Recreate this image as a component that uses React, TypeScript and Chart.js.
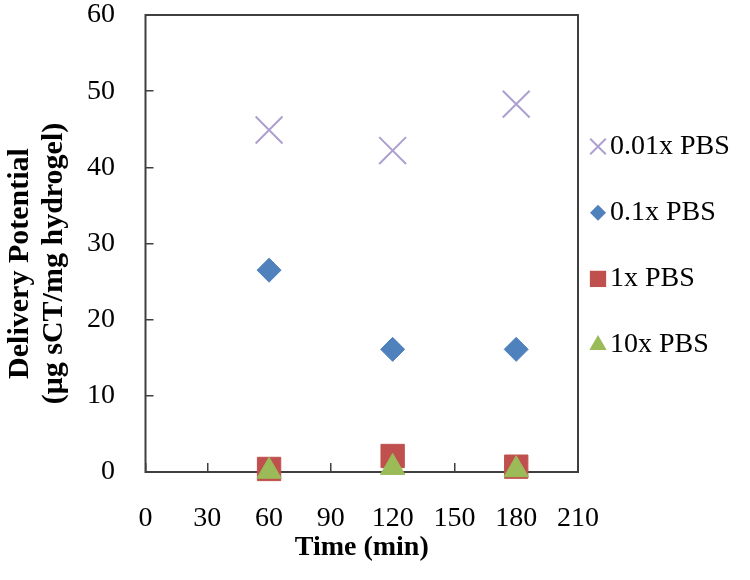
import React, { useEffect, useRef } from 'react';
import { Chart, registerables } from 'chart.js';

Chart.register(...registerables);

// ---- data ----
const timeMin = [60, 120, 180];
const pbs001 = [44.9, 42.2, 48.3];
const pbs01 = [26.5, 16.1, 16.1];
const pbs1 = [0.4, 2.1, 0.7];
const pbs10 = [0.1, 0.6, 0.3];
const seriesLabels = ['0.01x PBS', '0.1x PBS', '1x PBS', '10x PBS'];
const xTitle = 'Time (min)';
const yTitle = ['Delivery Potential', '(\u03bcg sCT/mg hydrogel)'];

const FONT = "'Liberation Serif', 'Times New Roman', serif";
const AXIS_COLOR = '#3f3f3f';

type Marker = { style: string; color: string; border: string; lw: number; r: number; legendR: number };
const markers: Marker[] = [
  { style: 'crossRot', color: '#ad9fd0', border: '#ad9fd0', lw: 2, r: 19, legendR: 11 },
  { style: 'rectRot', color: '#4f81bd', border: '#4f81bd', lw: 1, r: 12, legendR: 8 },
  { style: 'rect', color: '#c0504d', border: '#c0504d', lw: 1, r: 16.5, legendR: 11.5 },
  { style: 'triangle', color: '#9bbb59', border: '#9bbb59', lw: 1, r: 14, legendR: 10 },
];

function drawMarker(ctx: CanvasRenderingContext2D, m: Marker, x: number, y: number, r: number) {
  ctx.save();
  ctx.fillStyle = m.color;
  ctx.strokeStyle = m.border;
  ctx.lineWidth = m.lw;
  ctx.beginPath();
  if (m.style === 'crossRot') {
    const d = Math.SQRT1_2 * r;
    ctx.moveTo(x - d, y - d);
    ctx.lineTo(x + d, y + d);
    ctx.moveTo(x - d, y + d);
    ctx.lineTo(x + d, y - d);
    ctx.stroke();
  } else if (m.style === 'rectRot') {
    ctx.moveTo(x, y - r);
    ctx.lineTo(x + r, y);
    ctx.lineTo(x, y + r);
    ctx.lineTo(x - r, y);
    ctx.closePath();
    ctx.fill();
  } else if (m.style === 'rect') {
    const h = Math.SQRT1_2 * r;
    ctx.rect(x - h, y - h, 2 * h, 2 * h);
    ctx.fill();
  } else {
    ctx.moveTo(x, y - r);
    ctx.lineTo(x + r * Math.sqrt(3) / 2, y + r / 2);
    ctx.lineTo(x - r * Math.sqrt(3) / 2, y + r / 2);
    ctx.closePath();
    ctx.fill();
  }
  ctx.restore();
}

const framePlugin = {
  id: 'frame',
  beforeDatasetsDraw(chart: any) {
    const { ctx, chartArea } = chart;
    ctx.save();
    ctx.strokeStyle = AXIS_COLOR;
    ctx.lineWidth = 2;
    ctx.strokeRect(chartArea.left, chartArea.top, chartArea.right - chartArea.left, chartArea.bottom - chartArea.top);
    ctx.restore();
  },
};

const yTitlePlugin = {
  id: 'yTitle',
  afterDraw(chart: any) {
    const { ctx, chartArea } = chart;
    const cy = (chartArea.top + chartArea.bottom) / 2 + 20;
    ctx.save();
    ctx.font = `bold 30px ${FONT}`;
    ctx.fillStyle = '#000';
    ctx.textAlign = 'center';
    ctx.textBaseline = 'alphabetic';
    yTitle.forEach((line, i) => {
      ctx.save();
      ctx.translate(28 + i * 34, cy);
      ctx.rotate(-Math.PI / 2);
      ctx.fillText(line, 0, 0);
      ctx.restore();
    });
    ctx.restore();
  },
};

const legendPlugin = {
  id: 'sideLegend',
  afterDraw(chart: any) {
    const { ctx, chartArea } = chart;
    const x0 = chartArea.right + 20;
    const yStart = 146.5;
    const step = 66.2;
    ctx.save();
    ctx.font = `28px ${FONT}`;
    ctx.fillStyle = '#000';
    ctx.textBaseline = 'middle';
    ctx.textAlign = 'left';
    seriesLabels.forEach((label, i) => {
      const y = yStart + i * step;
      drawMarker(ctx, markers[i], x0, y, markers[i].legendR);
      ctx.fillText(label, x0 + 12, y);
    });
    ctx.restore();
  },
};

export default function App() {
  const ref = useRef<HTMLCanvasElement | null>(null);

  useEffect(() => {
    if (!ref.current) return;
    const seriesValues = [pbs001, pbs01, pbs1, pbs10];
    const chart = new Chart(ref.current, {
      type: 'scatter',
      data: {
        datasets: seriesValues.map((vals, i) => ({
          label: seriesLabels[i],
          data: timeMin.map((t, j) => ({ x: t, y: vals[j] })),
          pointStyle: markers[i].style as any,
          pointRadius: markers[i].r,
          pointHoverRadius: markers[i].r,
          pointBackgroundColor: markers[i].color,
          pointBorderColor: markers[i].border,
          pointBorderWidth: markers[i].lw,
          showLine: false,
          clip: false as any,
          order: 4 - i,
        })),
      },
      options: {
        responsive: false,
        animation: false,
        events: [],
        layout: { autoPadding: false, padding: { left: 0, top: 15, right: 172, bottom: 0 } },
        plugins: {
          legend: { display: false },
          tooltip: { enabled: false },
        },
        scales: {
          x: {
            type: 'linear',
            min: 0,
            max: 210,
            border: { display: false },
            grid: { drawOnChartArea: false, tickLength: -9, color: AXIS_COLOR, lineWidth: 1.5 },
            ticks: { stepSize: 30, padding: 38.7, color: '#000', font: { family: FONT, size: 28 } },
            title: {
              display: true,
              text: xTitle,
              color: '#000',
              font: { family: FONT, size: 28, weight: 'bold' },
              padding: { top: 0, bottom: 15 },
            },
            afterFit: (s: any) => {
              s.height = 108;
              s.paddingLeft = 0;
              s.paddingRight = 0;
            },
          },
          y: {
            type: 'linear',
            min: 0,
            max: 60,
            border: { display: false },
            grid: { drawOnChartArea: false, tickLength: -8, color: AXIS_COLOR, lineWidth: 1.5 },
            ticks: { stepSize: 10, padding: 38.5, color: '#000', font: { family: FONT, size: 28 } },
            title: { display: false },
            afterFit: (s: any) => {
              s.width = 145.5;
              s.paddingTop = 0;
              s.paddingBottom = 0;
            },
          },
        },
      },
      plugins: [framePlugin, yTitlePlugin, legendPlugin],
    });
    return () => chart.destroy();
  }, []);

  return (
    <div style={{ position: 'absolute', left: 0, top: 0, width: 750, height: 580 }}>
      <canvas ref={ref} width={750} height={580} style={{ display: 'block' }} />
    </div>
  );
}
